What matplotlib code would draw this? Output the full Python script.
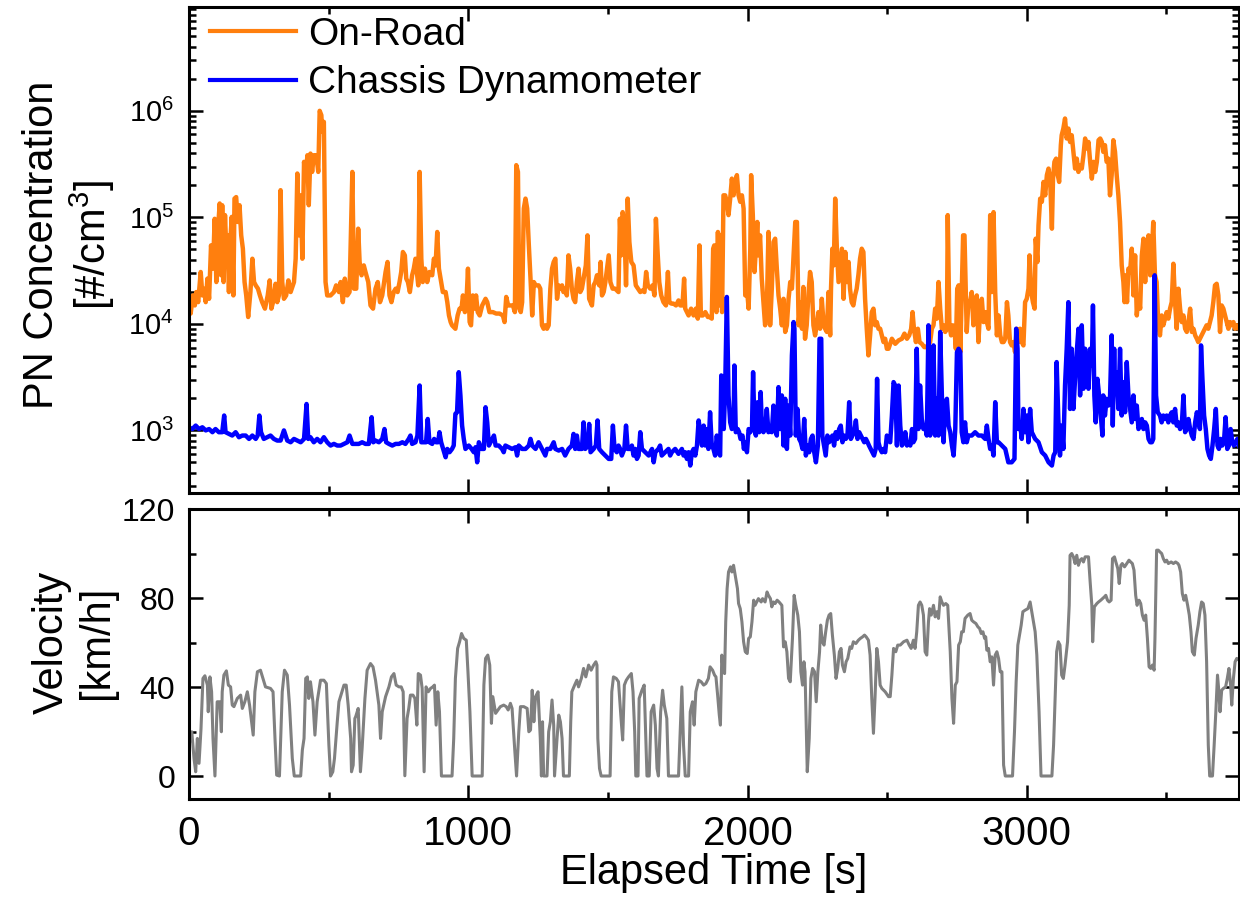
"""PN concentration (on-road vs chassis dynamometer) and vehicle velocity over time."""

import matplotlib
matplotlib.use("Agg")
import matplotlib.pyplot as plt
import numpy as np
from matplotlib.ticker import FuncFormatter, LogLocator, MultipleLocator, NullFormatter

plt.rcParams["font.family"] = ["Liberation Sans", "DejaVu Sans"]
plt.rcParams["mathtext.fontset"] = "custom"
plt.rcParams["mathtext.rm"] = "Liberation Sans"
plt.rcParams["mathtext.it"] = "Liberation Sans:italic"
plt.rcParams["mathtext.bf"] = "Liberation Sans:bold"

# ---------------------------------------------------------------------------
# Data
# ---------------------------------------------------------------------------
road_time = [
    0, 6, 14, 21, 26, 33, 42, 48, 54, 60,
    66, 72, 79, 86, 92, 98, 104, 110, 115, 119,
    124, 129, 134, 138, 143, 148, 153, 159, 163, 169,
    175, 181, 187, 193, 199, 205, 212, 220, 227, 233,
    239, 247, 254, 262, 272, 282, 289, 295, 301, 310,
    316, 322, 328, 334, 340, 348, 356, 364, 376, 382,
    388, 394, 400, 406, 412, 418, 424, 429, 435, 441,
    447, 456, 463, 468, 474, 477, 483, 489, 495, 507,
    519, 527, 537, 543, 551, 558, 567, 575, 585, 591,
    599, 606, 611, 618, 626, 632, 642, 650, 659, 668,
    676, 684, 692, 704, 711, 718, 725, 733, 740, 747,
    754, 760, 766, 773, 778, 784, 791, 799, 805, 811,
    821, 826, 832, 837, 845, 853, 861, 871, 877, 883,
    889, 895, 901, 909, 919, 925, 931, 937, 942, 954,
    962, 969, 976, 981, 988, 993, 999, 1005, 1010, 1016,
    1022, 1028, 1034, 1041, 1050, 1056, 1062, 1068, 1076, 1088,
    1100, 1112, 1124, 1130, 1136, 1143, 1151, 1160, 1167, 1172,
    1178, 1183, 1188, 1193, 1199, 1205, 1211, 1217, 1223, 1229,
    1235, 1241, 1252, 1258, 1264, 1270, 1276, 1282, 1288, 1294,
    1300, 1306, 1312, 1318, 1324, 1330, 1336, 1341, 1347, 1353,
    1359, 1365, 1371, 1377, 1383, 1389, 1395, 1401, 1407, 1415,
    1421, 1427, 1433, 1443, 1449, 1455, 1461, 1469, 1474, 1479,
    1485, 1491, 1497, 1503, 1509, 1517, 1526, 1538, 1543, 1548,
    1553, 1559, 1565, 1571, 1577, 1584, 1592, 1600, 1608, 1616,
    1624, 1631, 1637, 1643, 1652, 1660, 1667, 1672, 1678, 1684,
    1691, 1699, 1708, 1715, 1720, 1727, 1735, 1744, 1753, 1759,
    1767, 1773, 1777, 1783, 1789, 1798, 1807, 1815, 1822, 1828,
    1833, 1840, 1849, 1858, 1866, 1872, 1877, 1881, 1884, 1889,
    1894, 1899, 1905, 1909, 1914, 1920, 1926, 1932, 1938, 1944,
    1950, 1956, 1962, 1968, 1974, 1980, 1986, 1992, 1998, 2004,
    2010, 2013, 2019, 2025, 2030, 2035, 2039, 2045, 2051, 2057,
    2063, 2069, 2075, 2081, 2087, 2093, 2099, 2105, 2111, 2117,
    2123, 2129, 2135, 2141, 2147, 2153, 2159, 2165, 2171, 2177,
    2183, 2189, 2195, 2200, 2206, 2212, 2218, 2224, 2230, 2236,
    2242, 2248, 2254, 2260, 2266, 2272, 2278, 2284, 2290, 2296,
    2299, 2304, 2309, 2314, 2320, 2326, 2332, 2338, 2344, 2350,
    2356, 2362, 2367, 2373, 2379, 2385, 2391, 2397, 2403, 2409,
    2415, 2421, 2427, 2433, 2439, 2445, 2451, 2457, 2463, 2469,
    2475, 2481, 2487, 2493, 2499, 2505, 2517, 2529, 2541, 2553,
    2562, 2571, 2579, 2586, 2591, 2596, 2603, 2610, 2616, 2624,
    2633, 2639, 2646, 2654, 2660, 2666, 2672, 2678, 2684, 2690,
    2696, 2702, 2708, 2714, 2717, 2723, 2729, 2735, 2741, 2746,
    2751, 2756, 2762, 2767, 2772, 2777, 2782, 2785, 2791, 2797,
    2803, 2809, 2815, 2821, 2827, 2833, 2839, 2845, 2851, 2857,
    2863, 2869, 2875, 2881, 2887, 2893, 2899, 2905, 2911, 2917,
    2923, 2929, 2934, 2940, 2946, 2952, 2958, 2964, 2970, 2976,
    2982, 2988, 2994, 3000, 3006, 3010, 3016, 3022, 3028, 3032,
    3038, 3042, 3048, 3054, 3060, 3066, 3072, 3078, 3084, 3090,
    3094, 3099, 3105, 3111, 3116, 3122, 3125, 3131, 3137, 3143,
    3149, 3155, 3161, 3167, 3173, 3179, 3185, 3191, 3197, 3203,
    3209, 3215, 3221, 3227, 3233, 3239, 3245, 3251, 3257, 3263,
    3269, 3274, 3280, 3286, 3292, 3298, 3304, 3310, 3316, 3322,
    3328, 3334, 3340, 3346, 3350, 3354, 3359, 3364, 3370, 3376,
    3382, 3388, 3394, 3400, 3406, 3412, 3418, 3424, 3430, 3436,
    3442, 3448, 3453, 3459, 3465, 3471, 3477, 3483, 3489, 3495,
    3501, 3507, 3513, 3519, 3525, 3531, 3537, 3543, 3549, 3555,
    3561, 3567, 3573, 3579, 3585, 3591, 3597, 3603, 3609, 3614,
    3620, 3626, 3632, 3638, 3644, 3650, 3656, 3662, 3668, 3674,
    3680, 3686, 3692, 3698, 3704, 3710, 3716, 3722, 3728, 3734,
    3740, 3746, 3752, 3760,
]
road_pn = [
    1.6e4, 1.25e4, 1.85e4, 1.49e4, 1.99e4, 1.6e4, 3.07e4, 1.85e4, 2.14e4, 1.6e4,
    2.66e4, 1.72e4, 5.46e4, 3.3e4, 9.7e4, 2.47e4, 7.83e4, 1.35e5, 2.86e4, 1.3e5,
    2.47e4, 1.05e5, 4.73e4, 6.78e4, 1.99e4, 5.87e4, 1.01e5, 1.85e4, 1.5e5, 1.55e5,
    9.05e4, 1.3e5, 6.78e4, 5.08e4, 2.47e4, 1.85e4, 1.16e4, 1.99e4, 4.09e4, 2.47e4,
    2.3e4, 2.14e4, 1.85e4, 1.6e4, 1.39e4, 1.85e4, 2.56e4, 1.39e4, 1.6e4, 2.38e4,
    1.6e4, 1.85e4, 1.8e5, 2.47e4, 1.72e4, 1.85e4, 2.56e4, 1.99e4, 2.47e4, 4.09e4,
    2.58e5, 6.78e4, 1.61e5, 4.09e4, 3.32e5, 2.31e5, 3.83e5, 1.3e5, 3.97e5, 2.67e5,
    3.83e5, 3.83e5, 2.67e5, 1.0e6, 9.1e5, 6.35e5, 7.88e5, 2.47e4, 1.85e4, 1.85e4,
    1.99e4, 2.3e4, 1.99e4, 2.47e4, 1.6e4, 2.66e4, 1.85e4, 1.99e4, 2.67e5, 2.14e4,
    2.14e4, 7.83e4, 3.81e4, 2.86e4, 3.54e4, 3.07e4, 2.47e4, 1.49e4, 1.39e4, 2.14e4,
    2.47e4, 1.6e4, 1.85e4, 3.07e4, 3.81e4, 1.85e4, 1.6e4, 1.99e4, 2.14e4, 1.99e4,
    2.47e4, 3.07e4, 4.73e4, 4.4e4, 2.66e4, 2.47e4, 1.99e4, 2.86e4, 3.3e4, 4.09e4,
    2.3e4, 2.67e5, 4.09e4, 2.47e4, 3.3e4, 2.47e4, 3.07e4, 2.86e4, 4.09e4, 3.54e4,
    7.29e4, 3.3e4, 2.66e4, 1.99e4, 1.99e4, 1.6e4, 1.2e4, 1.04e4, 9.7e3, 9.0e3,
    1.2e4, 1.39e4, 1.39e4, 1.85e4, 1.29e4, 1.49e4, 3.3e4, 1.04e4, 9.7e3, 1.85e4,
    1.39e4, 1.85e4, 1.29e4, 1.2e4, 1.49e4, 1.6e4, 1.72e4, 1.6e4, 1.29e4, 1.29e4,
    1.25e4, 1.25e4, 1.2e4, 1.04e4, 1.79e4, 1.49e4, 1.49e4, 1.49e4, 1.29e4, 3.09e5,
    2.67e5, 1.39e4, 1.29e4, 1.6e4, 1.21e5, 1.5e5, 1.21e5, 5.46e4, 2.66e4, 1.2e4,
    2.47e4, 2.3e4, 2.3e4, 2.14e4, 9.7e3, 9.0e3, 9.7e3, 9.0e3, 9.7e3, 2.14e4,
    3.3e4, 3.81e4, 4.09e4, 1.72e4, 2.3e4, 2.14e4, 2.3e4, 1.99e4, 2.14e4, 1.85e4,
    4.4e4, 3.3e4, 2.14e4, 1.72e4, 1.6e4, 2.47e4, 3.3e4, 1.99e4, 2.14e4, 2.86e4,
    3.54e4, 6.78e4, 1.72e4, 1.49e4, 2.3e4, 2.47e4, 2.86e4, 2.3e4, 3.81e4, 1.85e4,
    1.99e4, 2.47e4, 3.3e4, 4.4e4, 2.47e4, 2.14e4, 2.14e4, 1.99e4, 9.7e4, 4.4e4,
    1.12e5, 8.4e4, 2.3e4, 1.5e5, 5.87e4, 3.81e4, 3.54e4, 2.3e4, 2.14e4, 1.99e4,
    2.06e4, 1.99e4, 3.07e4, 2.3e4, 2.14e4, 2.3e4, 1.85e4, 9.7e4, 4.73e4, 2.47e4,
    1.85e4, 1.6e4, 1.49e4, 3.07e4, 1.6e4, 1.55e4, 1.55e4, 1.49e4, 1.66e4, 1.49e4,
    1.49e4, 2.66e4, 1.39e4, 1.29e4, 1.2e4, 1.39e4, 1.2e4, 1.39e4, 1.12e4, 5.46e4,
    1.2e4, 1.2e4, 1.29e4, 1.16e4, 1.16e4, 1.12e4, 5.08e4, 5.46e4, 5.08e4, 1.29e4,
    7.29e4, 1.49e4, 6.78e4, 1.29e4, 1.61e5, 1.61e5, 1.4e5, 1.05e5, 1.5e5, 2.31e5,
    1.61e5, 2.15e5, 2.49e5, 1.61e5, 1.4e5, 1.61e5, 1.21e5, 1.85e4, 2.14e4, 1.39e4,
    5.08e4, 2.49e5, 1.05e5, 3.07e4, 5.08e4, 9.05e4, 4.4e4, 6.78e4, 2.66e4, 1.6e4,
    9.7e3, 1.29e4, 7.29e4, 9.7e3, 2.14e4, 5.87e4, 6.31e4, 3.3e4, 1.85e4, 1.39e4,
    9.7e3, 1.72e4, 8.4e3, 9.7e3, 1.72e4, 2.47e4, 2.14e4, 4.4e4, 9.05e4, 9.05e4,
    9.7e3, 1.6e4, 9.0e3, 2.22e4, 7.25e3, 9.7e3, 1.85e4, 3.07e4, 2.47e4, 9.7e3,
    7.8e3, 9.7e3, 1.29e4, 9.0e3, 1.72e4, 1.04e4, 9.0e3, 8.4e3, 1.99e4, 7.8e3,
    2.14e4, 5.08e4, 3.54e4, 1.5e5, 5.08e4, 2.47e4, 3.54e4, 5.08e4, 1.72e4, 4.73e4,
    2.47e4, 3.81e4, 2.14e4, 1.6e4, 1.49e4, 1.85e4, 2.14e4, 2.86e4, 4.09e4, 5.08e4,
    4.73e4, 1.72e4, 9.0e3, 5.06e3, 7.8e3, 1.29e4, 1.39e4, 9.7e3, 1.04e4, 9.0e3,
    9.0e3, 7.8e3, 6.75e3, 7.25e3, 5.84e3, 5.84e3, 7.25e3, 6.5e3, 7.0e3, 7.25e3,
    8.1e3, 7.25e3, 7.8e3, 9.0e3, 1.29e4, 9.0e3, 6.75e3, 9.0e3, 6.75e3, 6.5e3,
    6.05e3, 6.05e3, 6.28e3, 6.75e3, 9.0e3, 9.7e3, 1.39e4, 1.12e4, 2.47e4, 1.39e4,
    9.0e3, 9.7e3, 8.4e3, 9.0e3, 1.05e5, 9.7e3, 7.8e3, 9.7e3, 9.0e3, 5.84e3,
    2.14e4, 2.3e4, 5.43e3, 1.99e4, 6.78e4, 6.78e4, 1.85e4, 8.4e3, 1.6e4, 1.6e4,
    1.99e4, 9.7e3, 1.39e4, 1.85e4, 6.75e3, 1.39e4, 1.72e4, 1.04e4, 1.29e4, 1.04e4,
    9.0e3, 1.05e5, 1.99e4, 1.12e5, 1.99e4, 7.8e3, 1.2e4, 7.8e3, 6.75e3, 6.75e3,
    7.25e3, 1.6e4, 1.2e4, 6.75e3, 6.28e3, 6.75e3, 5.43e3, 9.0e3, 6.75e3, 9.0e3,
    6.75e3, 6.28e3, 1.6e4, 1.72e4, 2.14e4, 4.4e4, 1.99e4, 1.6e4, 1.39e4, 6.31e4,
    3.81e4, 8.4e4, 1.5e5, 1.4e5, 2.15e5, 1.61e5, 2.49e5, 2.87e5, 2.15e5, 7.83e4,
    2.31e5, 3.32e5, 3.56e5, 2.49e5, 2.15e5, 4.76e5, 5.9e5, 6.82e5, 8.47e5, 5.5e5,
    6.82e5, 5.1e5, 5.9e5, 4.12e5, 2.87e5, 3.56e5, 2.67e5, 3.09e5, 2.87e5, 3.83e5,
    5.5e5, 4.43e5, 5.1e5, 3.32e5, 2.31e5, 3.32e5, 2.67e5, 3.32e5, 5.3e5, 5.5e5,
    5.1e5, 4.12e5, 4.76e5, 3.32e5, 3.56e5, 1.61e5, 2.49e5, 5.3e5, 4.12e5, 2.49e5,
    1.61e5, 9.05e4, 3.54e4, 2.47e4, 1.6e4, 2.86e4, 1.6e4, 3.3e4, 3.07e4, 5.08e4,
    1.85e4, 4.4e4, 1.2e4, 1.85e4, 1.39e4, 4.4e4, 6.31e4, 2.47e4, 5.46e4, 6.78e4,
    2.86e4, 4.73e4, 9.05e4, 2.86e4, 2.47e4, 9.7e3, 7.8e3, 1.2e4, 9.7e3, 1.12e4,
    1.29e4, 1.12e4, 1.39e4, 1.6e4, 3.67e4, 1.6e4, 9.0e3, 2.14e4, 1.39e4, 1.04e4,
    1.2e4, 9.0e3, 8.4e3, 1.04e4, 1.39e4, 8.4e3, 9.0e3, 7.8e3, 7.25e3, 6.75e3,
    7.25e3, 7.8e3, 8.4e3, 9.0e3, 9.7e3, 9.0e3, 1.04e4, 1.2e4, 1.6e4, 2.3e4,
    2.38e4, 1.85e4, 8.4e3, 1.49e4, 1.39e4, 1.2e4, 1.04e4, 9.0e3, 1.04e4, 9.7e3,
    1.04e4, 9.0e3, 9.7e3, 9.0e3,
]

dyno_time = [
    0, 12, 24, 36, 48, 60, 72, 84, 95, 107,
    119, 126, 131, 143, 155, 167, 179, 191, 203, 215,
    227, 239, 246, 252, 258, 268, 280, 292, 304, 316,
    328, 340, 352, 364, 376, 388, 400, 412, 421, 427,
    435, 447, 459, 471, 483, 495, 507, 519, 531, 543,
    555, 567, 575, 585, 597, 608, 620, 632, 644, 654,
    660, 668, 680, 692, 700, 706, 716, 728, 740, 752,
    764, 775, 787, 793, 799, 811, 818, 826, 832, 841,
    849, 855, 861, 871, 878, 885, 892, 897, 903, 910,
    919, 925, 933, 942, 948, 954, 960, 966, 972, 978,
    984, 990, 1002, 1012, 1020, 1026, 1032, 1038, 1047, 1056,
    1062, 1068, 1074, 1086, 1092, 1098, 1109, 1121, 1127, 1133,
    1145, 1157, 1169, 1175, 1181, 1193, 1205, 1217, 1223, 1229,
    1241, 1252, 1258, 1264, 1270, 1276, 1282, 1294, 1306, 1312,
    1324, 1336, 1347, 1359, 1371, 1377, 1383, 1389, 1395, 1407,
    1413, 1419, 1429, 1433, 1438, 1449, 1457, 1463, 1469, 1479,
    1491, 1503, 1512, 1518, 1524, 1532, 1538, 1544, 1550, 1559,
    1565, 1571, 1580, 1586, 1592, 1598, 1604, 1610, 1616, 1622,
    1634, 1646, 1658, 1664, 1670, 1681, 1687, 1693, 1705, 1717,
    1723, 1729, 1741, 1753, 1765, 1771, 1777, 1783, 1789, 1795,
    1801, 1807, 1813, 1819, 1825, 1831, 1837, 1843, 1849, 1854,
    1860, 1866, 1872, 1878, 1884, 1890, 1896, 1902, 1906, 1911,
    1915, 1920, 1926, 1932, 1938, 1944, 1950, 1953, 1958, 1965,
    1970, 1975, 1982, 1987, 1992, 1998, 2004, 2010, 2016, 2020,
    2025, 2030, 2036, 2042, 2047, 2051, 2057, 2063, 2069, 2075,
    2081, 2087, 2093, 2099, 2105, 2111, 2117, 2123, 2129, 2135,
    2141, 2147, 2153, 2159, 2165, 2168, 2173, 2179, 2185, 2191,
    2197, 2203, 2209, 2215, 2221, 2227, 2233, 2237, 2245, 2252,
    2258, 2264, 2268, 2274, 2280, 2286, 2292, 2298, 2304, 2310,
    2316, 2322, 2328, 2334, 2340, 2346, 2352, 2358, 2364, 2370,
    2376, 2382, 2388, 2394, 2400, 2406, 2412, 2418, 2424, 2430,
    2435, 2441, 2447, 2453, 2459, 2464, 2469, 2475, 2481, 2487,
    2493, 2499, 2505, 2511, 2517, 2523, 2529, 2535, 2541, 2547,
    2553, 2559, 2565, 2571, 2577, 2583, 2589, 2594, 2600, 2606,
    2612, 2618, 2624, 2630, 2636, 2642, 2648, 2654, 2660, 2666,
    2672, 2678, 2684, 2690, 2696, 2702, 2708, 2714, 2720, 2726,
    2732, 2738, 2744, 2750, 2756, 2762, 2767, 2773, 2779, 2785,
    2791, 2803, 2815, 2827, 2839, 2851, 2857, 2863, 2869, 2875,
    2881, 2887, 2893, 2899, 2911, 2923, 2934, 2946, 2956, 2962,
    2967, 2970, 2976, 2982, 2988, 2994, 3000, 3006, 3012, 3018,
    3024, 3030, 3042, 3054, 3066, 3078, 3090, 3096, 3102, 3107,
    3113, 3119, 3125, 3131, 3137, 3143, 3149, 3155, 3161, 3167,
    3173, 3179, 3185, 3191, 3197, 3203, 3209, 3215, 3221, 3227,
    3233, 3237, 3242, 3247, 3253, 3259, 3265, 3271, 3274, 3280,
    3286, 3292, 3298, 3304, 3308, 3313, 3316, 3322, 3328, 3334,
    3340, 3346, 3352, 3358, 3364, 3370, 3376, 3382, 3388, 3394,
    3400, 3406, 3412, 3418, 3424, 3430, 3436, 3442, 3448, 3453,
    3458, 3463, 3469, 3477, 3483, 3489, 3495, 3501, 3507, 3513,
    3519, 3525, 3531, 3537, 3543, 3549, 3555, 3561, 3567, 3573,
    3579, 3585, 3591, 3597, 3603, 3609, 3614, 3620, 3624, 3629,
    3635, 3641, 3647, 3653, 3659, 3665, 3671, 3677, 3683, 3688,
    3694, 3700, 3706, 3712, 3718, 3724, 3730, 3736, 3742, 3748,
    3754, 3760,
]
dyno_pn = [
    1070, 1030, 1110, 1030, 1070, 1000, 1030, 962, 1030, 962,
    962, 1380, 962, 927, 895, 962, 863, 895, 895, 832,
    895, 832, 895, 1380, 962, 832, 863, 895, 832, 803,
    803, 1000, 803, 774, 832, 803, 774, 832, 1770, 832,
    863, 774, 832, 774, 863, 774, 721, 747, 721, 721,
    747, 774, 895, 747, 747, 747, 774, 747, 747, 1330,
    774, 803, 774, 832, 1030, 774, 747, 721, 747, 747,
    774, 747, 832, 895, 747, 774, 895, 2640, 774, 774,
    774, 1280, 774, 747, 832, 774, 774, 962, 774, 670,
    560, 670, 624, 670, 721, 1430, 1480, 3520, 2130, 1110,
    832, 670, 721, 670, 624, 695, 502, 774, 670, 670,
    1650, 1190, 721, 832, 895, 721, 721, 670, 624, 721,
    695, 670, 695, 581, 721, 670, 670, 721, 832, 721,
    670, 774, 721, 670, 624, 581, 670, 670, 774, 670,
    647, 670, 581, 670, 721, 927, 670, 895, 670, 670,
    1190, 670, 721, 1150, 624, 670, 721, 1240, 670, 624,
    581, 540, 540, 1110, 670, 624, 721, 670, 581, 670,
    1110, 670, 670, 721, 581, 670, 540, 581, 962, 670,
    624, 581, 670, 502, 624, 670, 721, 581, 624, 670,
    581, 624, 670, 602, 670, 581, 624, 540, 624, 468,
    624, 670, 581, 721, 1240, 962, 721, 1110, 721, 1030,
    670, 1480, 721, 670, 581, 895, 624, 581, 3280, 3050,
    1030, 2460, 1.79e4, 2130, 1190, 1030, 1110, 4070, 962, 1030,
    962, 832, 895, 670, 774, 624, 1030, 962, 1030, 3520,
    1030, 895, 1840, 962, 2290, 1190, 962, 1030, 1590, 962,
    1030, 962, 1710, 1030, 895, 2550, 1030, 2130, 721, 1980,
    670, 1710, 895, 5060, 1.04e4, 9000, 895, 1590, 832, 774,
    670, 1280, 581, 721, 624, 832, 895, 670, 502, 721,
    7250, 7250, 895, 721, 581, 895, 774, 832, 895, 721,
    962, 832, 1030, 1110, 774, 895, 832, 895, 1840, 832,
    895, 962, 1240, 832, 962, 895, 832, 774, 832, 774,
    721, 670, 624, 581, 670, 3050, 774, 670, 624, 670,
    624, 895, 832, 774, 1380, 2840, 2640, 721, 2640, 1110,
    721, 774, 962, 721, 774, 721, 1030, 774, 832, 5840,
    1030, 2640, 1280, 1030, 1110, 895, 9700, 895, 1190, 6280,
    895, 1980, 895, 8400, 2130, 774, 1840, 1980, 1110, 962,
    721, 581, 1030, 5430, 5840, 5430, 962, 774, 1190, 774,
    895, 895, 962, 895, 895, 832, 1110, 832, 670, 721,
    581, 1840, 774, 774, 721, 670, 502, 502, 540, 9000,
    5840, 1030, 1190, 832, 1590, 962, 1380, 774, 1590, 962,
    895, 832, 774, 624, 581, 502, 468, 581, 624, 4380,
    1280, 581, 1110, 670, 2640, 5840, 1.6e4, 1590, 5840, 1590,
    3050, 5430, 9000, 2130, 9700, 2460, 5840, 3520, 2460, 5840,
    4070, 1.49e4, 2130, 1190, 3050, 2130, 1380, 895, 2130, 1380,
    1980, 1710, 1980, 7800, 1110, 5840, 2460, 3520, 1590, 5840,
    1380, 2840, 1480, 4380, 2130, 1590, 1190, 2130, 1280, 1710,
    1030, 1110, 1280, 1030, 1190, 1110, 832, 774, 774, 832,
    2.86e4, 2130, 1480, 1380, 1190, 1380, 1280, 1380, 1190, 1380,
    1480, 1190, 1590, 1110, 1190, 1030, 1110, 2130, 962, 1030,
    1280, 1030, 895, 832, 1190, 1480, 1280, 1030, 6280, 3050,
    1380, 1030, 670, 581, 540, 721, 1030, 1590, 721, 670,
    832, 721, 774, 1330, 670, 721, 1030, 774, 721, 774,
    832, 721,
]

speed_time = [
    0, 10, 18, 24, 30, 36, 43, 50, 57, 66,
    69, 75, 81, 86, 93, 101, 110, 116, 119, 125,
    134, 141, 149, 155, 161, 173, 185, 191, 200, 209,
    217, 224, 230, 236, 245, 256, 265, 274, 292, 301,
    308, 314, 324, 334, 342, 352, 360, 370, 377, 400,
    406, 412, 418, 424, 429, 435, 444, 451, 459, 471,
    483, 492, 501, 507, 515, 521, 531, 537, 546, 555,
    563, 570, 579, 582, 588, 594, 597, 606, 614, 620,
    630, 638, 650, 659, 668, 680, 686, 692, 704, 716,
    725, 734, 742, 752, 760, 767, 773, 781, 787, 793,
    802, 809, 816, 821, 829, 835, 842, 849, 857, 865,
    873, 879, 885, 891, 897, 904, 942, 948, 954, 962,
    969, 976, 984, 993, 999, 1006, 1014, 1050, 1056, 1062,
    1070, 1077, 1083, 1088, 1098, 1115, 1127, 1136, 1143, 1151,
    1157, 1167, 1173, 1181, 1187, 1199, 1211, 1217, 1223, 1229,
    1235, 1241, 1250, 1258, 1262, 1266, 1270, 1282, 1288, 1294,
    1300, 1306, 1309, 1318, 1324, 1330, 1336, 1341, 1362, 1367,
    1371, 1381, 1389, 1395, 1405, 1413, 1421, 1431, 1440, 1449,
    1457, 1461, 1464, 1470, 1476, 1508, 1514, 1520, 1530, 1538,
    1548, 1553, 1559, 1566, 1574, 1584, 1590, 1596, 1600, 1608,
    1612, 1622, 1630, 1636, 1640, 1648, 1655, 1664, 1670, 1676,
    1681, 1689, 1696, 1702, 1711, 1717, 1753, 1759, 1765, 1771,
    1777, 1789, 1795, 1803, 1809, 1815, 1825, 1834, 1843, 1851,
    1860, 1866, 1875, 1882, 1887, 1893, 1899, 1903, 1908, 1913,
    1918, 1922, 1927, 1932, 1939, 1944, 1950, 1956, 1964, 1968,
    1974, 1980, 1986, 1992, 1999, 2004, 2010, 2016, 2022, 2027,
    2033, 2039, 2049, 2054, 2063, 2070, 2075, 2082, 2087, 2093,
    2099, 2106, 2113, 2123, 2129, 2135, 2141, 2147, 2153, 2161,
    2167, 2173, 2180, 2186, 2191, 2197, 2202, 2206, 2214, 2221,
    2227, 2233, 2240, 2246, 2252, 2258, 2262, 2268, 2274, 2280,
    2286, 2292, 2298, 2304, 2311, 2317, 2323, 2329, 2335, 2340,
    2347, 2353, 2359, 2367, 2373, 2379, 2388, 2397, 2404, 2412,
    2419, 2425, 2433, 2439, 2445, 2451, 2457, 2463, 2469, 2475,
    2481, 2493, 2505, 2511, 2517, 2523, 2531, 2538, 2547, 2559,
    2571, 2579, 2586, 2594, 2600, 2606, 2612, 2618, 2624, 2630,
    2636, 2642, 2648, 2652, 2658, 2666, 2672, 2678, 2684, 2690,
    2696, 2702, 2710, 2717, 2726, 2732, 2738, 2744, 2750, 2756,
    2762, 2767, 2773, 2779, 2789, 2797, 2803, 2809, 2818, 2825,
    2831, 2837, 2843, 2849, 2853, 2857, 2863, 2869, 2875, 2881,
    2887, 2893, 2899, 2905, 2911, 2917, 2923, 2949, 2956, 2962,
    2968, 2974, 2980, 2986, 2994, 3004, 3012, 3018, 3024, 3030,
    3036, 3044, 3051, 3090, 3096, 3102, 3107, 3113, 3119, 3125,
    3131, 3137, 3146, 3152, 3155, 3161, 3167, 3173, 3179, 3185,
    3191, 3197, 3203, 3209, 3215, 3221, 3227, 3233, 3236, 3242,
    3251, 3257, 3265, 3271, 3278, 3283, 3289, 3295, 3302, 3307,
    3314, 3319, 3326, 3331, 3337, 3342, 3350, 3354, 3362, 3366,
    3372, 3378, 3384, 3390, 3395, 3402, 3408, 3414, 3420, 3426,
    3432, 3438, 3444, 3450, 3456, 3459, 3465, 3471, 3477, 3483,
    3489, 3495, 3501, 3507, 3517, 3525, 3533, 3541, 3545, 3551,
    3557, 3563, 3569, 3576, 3582, 3588, 3593, 3600, 3606, 3614,
    3620, 3626, 3632, 3638, 3644, 3650, 3655, 3665, 3671, 3677,
    3683, 3688, 3692, 3698, 3704, 3712, 3718, 3724, 3730, 3734,
    3740, 3746, 3752, 3760,
]
speed_kmh = [
    13.9, 19.9, 7.9, 1.9, 16.9, 5.7, 21.1, 43.9, 45.1, 40.9,
    28.9, 44.6, 37.9, 16.9, 0, 33.4, 33.4, 19.9, 37.9, 45.4,
    47.3, 40.9, 40.1, 31.9, 31.2, 34.9, 36.4, 30.4, 33.4, 37.9,
    31.9, 24.4, 18.4, 37.9, 46.9, 47.6, 43.9, 40.1, 39.4, 37.9,
    16.9, 0.4, 0, 37.9, 47.6, 45.4, 31.9, 7.9, 0, 0,
    11.7, 16.9, 43.9, 44.6, 34.9, 42.4, 33.4, 18.4, 33.4, 43.1,
    43.1, 41.6, 13.9, 0, 1.9, 7.9, 24.4, 33.4, 37.2, 40.9,
    40.9, 31.9, 16.9, 1.9, 4.9, 25.9, 26.7, 30.4, 1.9, 12.4,
    34.9, 47.6, 50.6, 49.1, 43.1, 31.9, 16.9, 28.9, 35.7, 40.1,
    44.6, 46.1, 40.9, 40.1, 40.1, 37.9, 0.1, 25.9, 30.4, 36.4,
    36.4, 34.9, 22.9, 46.1, 45.4, 39.4, 1.9, 40.1, 37.9, 39.4,
    40.1, 40.9, 22.9, 37.9, 28.9, 0, 0, 16.9, 43.9, 57.4,
    60.4, 64.1, 61.9, 61.1, 46.9, 28.9, 0, 0, 40.9, 52.9,
    54.4, 49.9, 23.7, 35.7, 28.2, 31.2, 31.9, 31.2, 29.7, 32.7,
    30.4, 10.9, 0, 19.9, 31.2, 31.2, 30.4, 19.9, 20.7, 38.6,
    24.4, 35.7, 37.9, 16.9, 0, 24.4, 0, 0, 19.9, 24.4,
    34.2, 22.9, 0, 16.9, 27.4, 24.4, 16.9, 0, 0, 24.4,
    37.9, 40.9, 43.1, 40.1, 43.9, 48.4, 44.6, 49.9, 47.6, 49.9,
    51.4, 49.9, 16.9, 3.4, 0, 0, 37.9, 44.6, 43.9, 42.4,
    24.4, 16.2, 40.9, 43.1, 44.6, 46.1, 37.9, 19.9, 0, 0,
    34.9, 38.6, 40.9, 16.9, 0, 0, 28.9, 31.9, 22.9, 3.4,
    0, 28.9, 38.6, 31.9, 25.9, 0, 0, 19.9, 40.1, 13.9,
    0, 0, 28.9, 33.4, 22.9, 37.9, 43.1, 42.4, 40.9, 41.6,
    43.9, 49.1, 47.6, 45.4, 44.6, 36.4, 27.4, 22.9, 54.4, 46.9,
    46.1, 69.4, 84.3, 91.8, 94.1, 91.8, 94.8, 90.3, 84.3, 77.6,
    75.3, 69.4, 60.4, 55.9, 55.1, 61.9, 62.6, 69.4, 79.1, 76.8,
    78.3, 79.8, 78.3, 79.8, 78.3, 82.8, 81.3, 79.8, 76.1, 78.3,
    77.6, 79.1, 78.3, 76.8, 58.1, 60.4, 55.9, 43.9, 42.4, 61.9,
    81.3, 76.8, 72.4, 64.9, 46.9, 40.9, 51.4, 46.9, 1.9, 16.9,
    43.9, 48.4, 46.9, 33.4, 46.9, 55.9, 67.9, 60.4, 58.9, 64.9,
    70.1, 72.4, 73.1, 63.4, 54.4, 43.9, 48.4, 55.9, 57.4, 49.9,
    46.9, 51.4, 52.9, 58.1, 57.4, 60.4, 59.6, 61.1, 61.9, 62.6,
    63.4, 62.6, 61.1, 54.4, 34.9, 19.2, 36.4, 57.4, 51.4, 40.9,
    39.4, 37.9, 35.7, 35.7, 45.4, 57.4, 55.9, 58.9, 58.9, 60.4,
    61.1, 58.9, 57.4, 61.1, 57.4, 64.9, 76.8, 78.3, 76.8, 72.4,
    55.9, 54.4, 69.4, 75.3, 72.4, 76.8, 71.6, 73.9, 70.9, 80.6,
    78.3, 76.8, 77.6, 76.8, 55.9, 34.9, 23.7, 40.9, 42.4, 58.9,
    60.4, 64.9, 64.9, 70.9, 72.4, 73.1, 70.1, 69.4, 68.6, 67.1,
    66.4, 64.1, 64.9, 61.9, 62.6, 56.6, 57.4, 51.4, 53.6, 40.9,
    54.4, 55.9, 52.9, 46.9, 46.9, 4.9, 0, 0, 19.9, 42.4,
    58.9, 63.4, 67.9, 73.9, 74.6, 75.3, 78.3, 73.9, 69.4, 64.9,
    54.4, 28.9, 0, 0, 13.9, 36.4, 55.9, 60.4, 58.9, 45.4,
    43.9, 49.9, 60.4, 76.8, 99.3, 100.1, 98.6, 95.6, 99.3, 94.8,
    97.1, 97.8, 96.3, 98.6, 98.6, 98.6, 87.3, 76.8, 60.4, 76.1,
    77.6, 78.3, 79.1, 79.8, 80.6, 81.3, 79.1, 78.3, 79.1, 97.8,
    98.6, 96.3, 93.3, 86.6, 94.8, 95.6, 94.1, 94.8, 96.3, 97.1,
    96.3, 95.6, 92.6, 81.3, 76.8, 79.1, 77.6, 72.4, 70.1, 72.4,
    61.9, 49.1, 48.4, 49.9, 47.6, 61.9, 101.6, 101.6, 100.8, 100.1,
    97.8, 96.3, 97.1, 95.6, 96.3, 95.6, 96.3, 95.6, 94.8, 91.8,
    82.1, 79.1, 81.3, 76.8, 72.4, 64.9, 55.9, 54.4, 61.9, 67.9,
    73.9, 78.3, 77.6, 72.4, 51.4, 13.9, 0, 0, 13.9, 28.9,
    45.4, 37.9, 28.9, 38.6, 39.4, 40.1, 43.9, 48.4, 40.9, 31.9,
    43.9, 51.4, 52.9, 52.1,
]

series_labels = ["On-Road", "Chassis Dynamometer"]
series_colors = ["#ff7f0e", "#0000ff"]
speed_color = "#808080"


def style_axes(ax):
    for spine in ax.spines.values():
        spine.set_linewidth(2.2)
    ax.tick_params(which="both", direction="in", top=True, right=True, width=1.8)
    ax.tick_params(which="major", length=10)
    ax.tick_params(which="minor", length=5)


def main() -> None:
    fig = plt.figure(figsize=(12.4, 9.15), dpi=100)
    ax_pn = fig.add_axes([0.1524, 0.4615, 0.8468, 0.5312])
    ax_v = fig.add_axes([0.1524, 0.1264, 0.8468, 0.3170], sharex=ax_pn)

    # --- PN concentration -------------------------------------------------
    ax_pn.plot(road_time, road_pn, color=series_colors[0], lw=3.2, label=series_labels[0])
    ax_pn.plot(dyno_time, dyno_pn, color=series_colors[1], lw=3.2, label=series_labels[1])
    ax_pn.set_yscale("log")
    ax_pn.set_ylim(2.6e2, 9.5e6)
    ax_pn.yaxis.set_major_locator(LogLocator(base=10, numticks=10))
    ax_pn.yaxis.set_minor_locator(LogLocator(base=10, subs=np.arange(2, 10), numticks=20))
    ax_pn.yaxis.set_major_formatter(
        FuncFormatter(lambda v, p: f"10$^{{{int(round(np.log10(v)))}}}$"))
    ax_pn.yaxis.set_minor_formatter(NullFormatter())
    style_axes(ax_pn)
    ax_pn.tick_params(axis="y", labelsize=21, pad=11)
    ax_pn.tick_params(axis="x", labelbottom=False)
    ax_pn.set_ylabel("PN Concentration\n[#/cm$^3$]", fontsize=30, linespacing=1.15)
    ax_pn.yaxis.set_label_coords(-0.0686, 0.51)

    leg = ax_pn.legend(loc="upper left", bbox_to_anchor=(0.013, 0.995), frameon=False,
                       fontsize=28, handlelength=2.2, handletextpad=0.3,
                       labelspacing=0.32, borderaxespad=0.0, borderpad=0.2)
    for line in leg.get_lines():
        line.set_linewidth(3.0)

    # --- Velocity ---------------------------------------------------------
    ax_v.plot(speed_time, speed_kmh, color=speed_color, lw=2.2)
    ax_v.set_ylim(-10.5, 120)
    ax_v.yaxis.set_major_locator(MultipleLocator(40))
    ax_v.yaxis.set_minor_locator(MultipleLocator(20))
    ax_v.set_xlim(0, 3760)
    ax_v.xaxis.set_major_locator(MultipleLocator(1000))
    ax_v.xaxis.set_minor_locator(MultipleLocator(500))
    style_axes(ax_v)
    ax_v.tick_params(axis="y", labelsize=23, pad=10)
    ax_v.tick_params(axis="x", labelsize=29, pad=11)
    ax_v.set_ylabel("Velocity\n[km/h]", fontsize=30, linespacing=1.15)
    ax_v.yaxis.set_label_coords(-0.0686, 0.54)
    ax_v.set_xlabel("Elapsed Time [s]", fontsize=30, labelpad=0)

    fig.savefig("out.png", dpi=100)
    plt.close(fig)


if __name__ == "__main__":
    main()
